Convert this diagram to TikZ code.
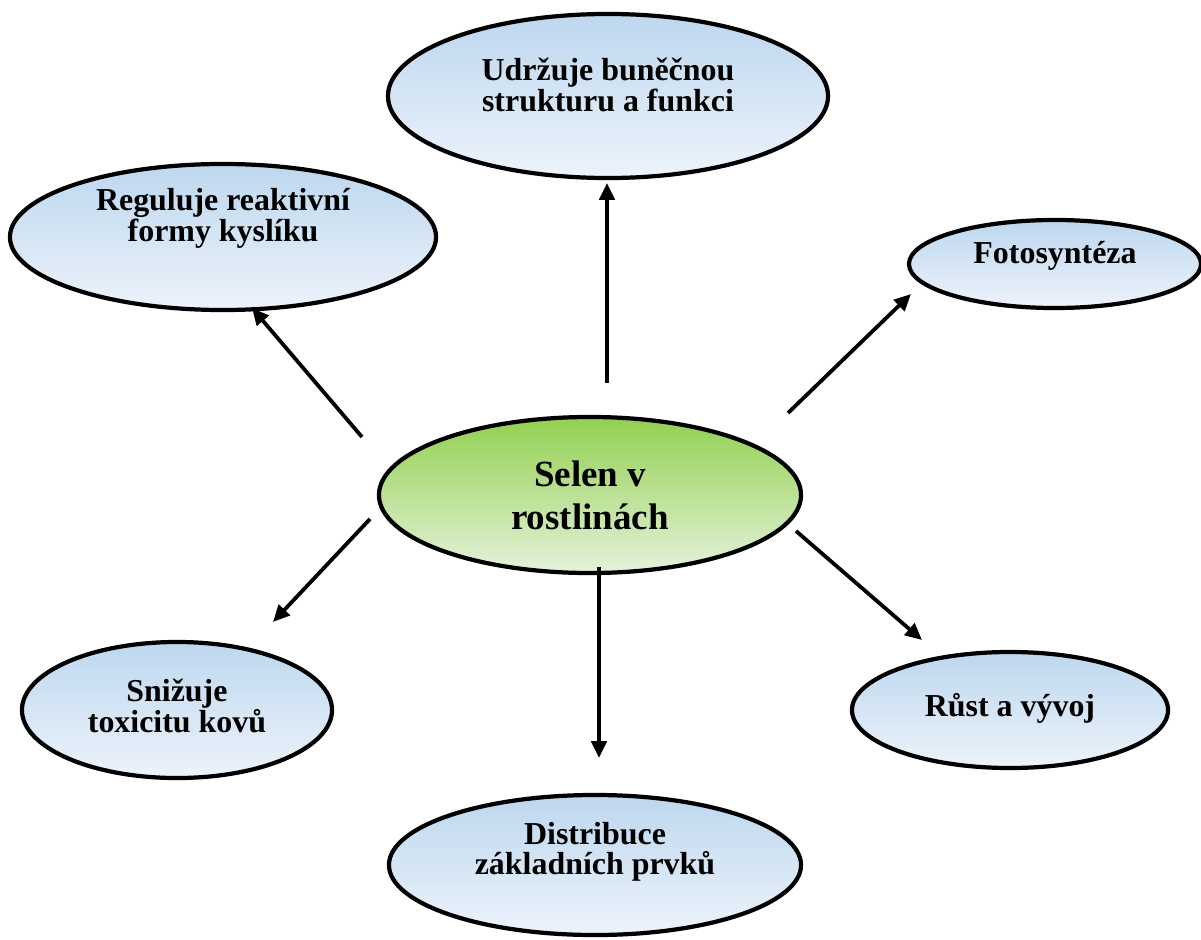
\documentclass[tikz,border=0pt]{standalone}
\usepackage{fontspec}
\setmainfont{Liberation Serif}
\usetikzlibrary{shapes.geometric,arrows.meta}
\definecolor{bubtop}{RGB}{189,215,238}
\definecolor{bubbot}{RGB}{237,243,251}
\definecolor{seltop}{RGB}{146,208,80}
\definecolor{selbot}{RGB}{229,242,219}

\begin{document}
\begin{tikzpicture}[x=0.025cm,y=-0.025cm,>={Triangle[length=0.42cm,width=0.38cm]},
    bubble/.style={ellipse, draw, line width=3pt, top color=bubtop, bottom color=bubbot, inner sep=0pt},
    lbl/.style={align=center, font=\bfseries\fontsize{22.7}{20.8}\selectfont},
    link/.style={->, line width=2.7pt}]
                \useasboundingbox (0,0) rectangle (1201,939);

                \node[bubble, top color=seltop, bottom color=selbot, minimum width=10.55cm, minimum height=3.9cm,
                      align=center, font=\bfseries\fontsize{26.3}{30.6}\selectfont] (sel) at (590,495) {Selen v\\rostlinách};

                \node[bubble, minimum width=11cm, minimum height=4.1cm,
                      label={[lbl,yshift=0.28cm]center:{Udržuje buněčnou\\strukturu a funkci}}] (udr) at (608,96) {};
                \node[bubble, minimum width=10.65cm, minimum height=3.65cm,
                      label={[lbl,yshift=0.46cm]center:{Reguluje reaktivní\\formy kyslíku}}] (reg) at (223,237) {};
                \node[bubble, minimum width=7.3cm, minimum height=2.2cm,
                      label={[lbl,yshift=0.2cm]center:{Fotosyntéza}}] (fot) at (1055,264) {};
                \node[bubble, minimum width=7.75cm, minimum height=3.4cm,
                      label={[lbl,yshift=0.1cm]center:{Snižuje\\toxicitu kovů}}] (sni) at (177,710) {};
                \node[bubble, minimum width=10.3cm, minimum height=3.5cm,
                      label={[lbl,yshift=0.33cm]center:{Distribuce\\základních prvků}}] (dis) at (595,865) {};
                \node[bubble, minimum width=7.9cm, minimum height=2.9cm,
                      label={[lbl,yshift=0.05cm]center:{Růst a vývoj}}] (rus) at (1010,710) {};

                \coordinate (s1) at (607,383);  \coordinate (e1) at (607,183);
                \coordinate (s2) at (362,437);  \coordinate (e2) at (252,308);
                \coordinate (s3) at (788,413);  \coordinate (e3) at (911,294);
                \coordinate (s4) at (370,519);  \coordinate (e4) at (273,622);
                \coordinate (s5) at (599,567);  \coordinate (e5) at (599,758);
                \coordinate (s6) at (796,531);  \coordinate (e6) at (922,640);

                \draw[link] (s1)--(e1);
                \draw[link] (s2)--(e2);
                \draw[link] (s3)--(e3);
                \draw[link] (s4)--(e4);
                \draw[link] (s5)--(e5);
                \draw[link] (s6)--(e6);
            \end{tikzpicture}
\end{document}
